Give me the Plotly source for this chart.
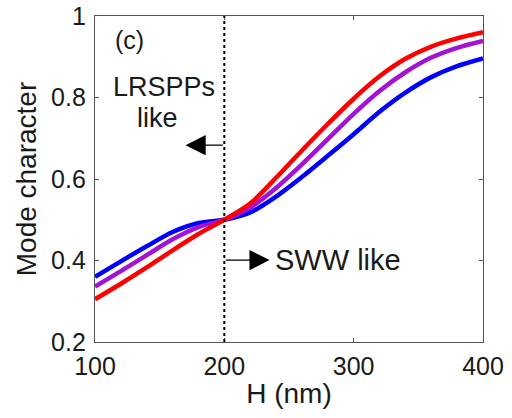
import plotly.graph_objects as go

# Slab thickness H (nm)
H = [100, 120, 140, 160, 180, 200, 220, 240, 260, 280, 300, 320, 340, 360, 380, 400]

# Mode character for the three cases
red_vals = [0.305, 0.343, 0.383, 0.425, 0.465, 0.500, 0.540, 0.603, 0.670, 0.735,
            0.797, 0.852, 0.895, 0.925, 0.945, 0.960]
purple_vals = [0.336, 0.374, 0.413, 0.452, 0.482, 0.500, 0.530, 0.578, 0.636, 0.698,
               0.760, 0.816, 0.862, 0.898, 0.922, 0.939]
blue_vals = [0.360, 0.398, 0.435, 0.470, 0.492, 0.500, 0.518, 0.557, 0.605, 0.657,
             0.710, 0.765, 0.812, 0.850, 0.877, 0.896]

x_ticks = [100, 200, 300, 400]
y_ticks = [0.2, 0.4, 0.6, 0.8, 1.0]
y_ticklabels = ["0.2", "0.4", "0.6", "0.8", "1"]

FONT = "Liberation Sans, Arial, sans-serif"
TEXT = "#1a1a1a"

fig = go.Figure()
for vals, color in [(blue_vals, "#0000ff"), (purple_vals, "#a313d3"), (red_vals, "#ff0000")]:
    fig.add_trace(go.Scatter(x=H, y=vals, mode="lines",
                             line=dict(color=color, width=4.5, shape="spline", smoothing=0.8),
                             showlegend=False))

# Boundary between the two regimes
fig.add_shape(type="line", x0=200, x1=200, y0=0.2, y1=1.0, xref="x", yref="y",
              line=dict(color="black", width=2, dash="dot"))

# Direction arrows
for tip_x, y in [(170, 0.683), (235, 0.401)]:
    fig.add_annotation(x=tip_x, y=y, ax=200, ay=y, xref="x", yref="y", axref="x", ayref="y",
                       text="", showarrow=True, arrowhead=2, arrowsize=3.1, arrowwidth=1.3,
                       arrowcolor="black", standoff=0, startstandoff=0)

# Labels
fig.add_annotation(x=127, y=0.940, xref="x", yref="y", text="(c)", showarrow=False,
                   font=dict(family=FONT, size=25, color=TEXT))
fig.add_annotation(x=153.5, y=0.826, xref="x", yref="y", text="LRSPPs", showarrow=False,
                   font=dict(family=FONT, size=27, color=TEXT))
fig.add_annotation(x=148, y=0.750, xref="x", yref="y", text="like", showarrow=False,
                   font=dict(family=FONT, size=27, color=TEXT))
fig.add_annotation(x=238, y=0.401, xref="x", yref="y", text="SWW like", showarrow=False,
                   xanchor="left", font=dict(family=FONT, size=29, color=TEXT))

axis_common = dict(showline=True, linecolor="#555555", linewidth=1.3, mirror="ticks",
                   ticks="inside", ticklen=4, tickcolor="#555555", showgrid=False, zeroline=False,
                   automargin=False, tickfont=dict(family=FONT, size=25, color=TEXT))

fig.update_xaxes(range=[100, 400], tickvals=x_ticks, ticklabelstandoff=2,
                 title=dict(text="H (nm)", font=dict(family=FONT, size=28, color=TEXT), standoff=4),
                 **axis_common)
fig.update_yaxes(range=[0.2, 1.0], tickvals=y_ticks, ticktext=y_ticklabels, ticklabelstandoff=3,
                 title=dict(text="Mode character", font=dict(family=FONT, size=28, color=TEXT), standoff=6),
                 **axis_common)

fig.update_layout(width=512, height=418, margin=dict(l=95, r=29, t=16, b=76),
                  plot_bgcolor="white", paper_bgcolor="white")

fig.write_html("out.html")
